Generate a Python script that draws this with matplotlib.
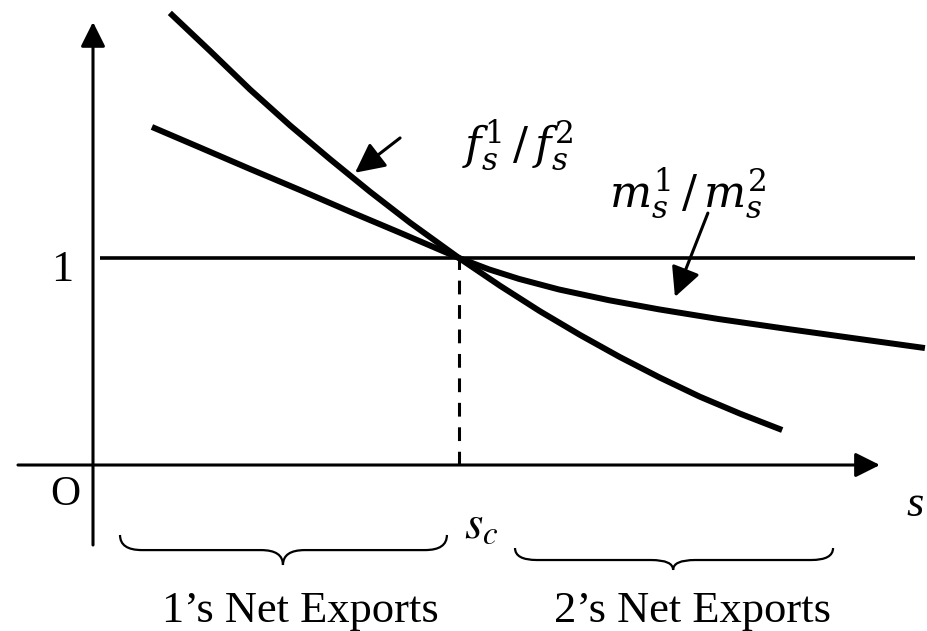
import matplotlib

matplotlib.use("Agg")
import matplotlib.pyplot as plt
from matplotlib.patches import FancyArrowPatch, PathPatch
from matplotlib.path import Path

# schematic curves: s on the x axis, ratio on the y axis (crossing at s_c = 1, ratio = 1)
f_s = [0.210, 0.320, 0.429, 0.538, 0.648, 0.757, 0.866, 1.000,
       1.112, 1.221, 1.331, 1.440, 1.549, 1.658, 1.768, 1.883]
f_ratio = [2.184, 2.000, 1.814, 1.641, 1.477, 1.320, 1.171, 1.000,
           0.866, 0.743, 0.628, 0.521, 0.422, 0.330, 0.248, 0.169]

m_s = [0.161, 0.292, 0.429, 0.566, 0.702, 0.839, 1.000, 1.082,
       1.164, 1.273, 1.410, 1.546, 1.710, 1.902, 2.093, 2.273]
m_ratio = [1.633, 1.534, 1.430, 1.328, 1.224, 1.122, 1.000, 0.945,
           0.899, 0.848, 0.796, 0.752, 0.705, 0.656, 0.609, 0.565]

s_c = 1.0
parity = 1.0

curve_labels = [r"$f_s^1\,/\,f_s^2$", r"$m_s^1\,/\,m_s^2$"]
region_labels = ["1\u2019s Net Exports", "2\u2019s Net Exports"]

plt.rcParams["mathtext.fontset"] = "dejavuserif"
serif = "Liberation Serif"

fig = plt.figure(figsize=(9.28, 6.31), dpi=100)
ax = fig.add_axes([0, 0, 1, 1])
ax.set_xlim(-0.2541, 2.2814)
ax.set_ylim(-0.8019, 2.2464)
ax.axis("off")


def arrow(ax, start, end, lw, head):
    ax.add_patch(FancyArrowPatch(start, end, arrowstyle=f"-|>,head_length={head},head_width={head * 0.5}",
                                 lw=lw, color="black", mutation_scale=10, shrinkA=0, shrinkB=0))


def brace(ax, x0, x1, xm, y0, y1, y2, w):
    verts = [(x0, y0), (x0, y1), (x0 + w, y1), (xm - w, y1), (xm, y1), (xm, y2),
             (xm, y1), (xm + w, y1), (x1 - w, y1), (x1, y1), (x1, y0)]
    codes = [Path.MOVETO, Path.CURVE3, Path.CURVE3, Path.LINETO, Path.CURVE3, Path.CURVE3,
             Path.CURVE3, Path.CURVE3, Path.LINETO, Path.CURVE3, Path.CURVE3]
    ax.add_patch(PathPatch(Path(verts, codes), fill=False, lw=1.6, color="black"))


# axes with arrow heads
arrow(ax, (0, -0.3865), (0, 2.140), 2.2, 1.5)
arrow(ax, (-0.205, 0), (2.150, 0), 2.2, 1.5)

# ratio = 1 line and the dashed drop at s_c
ax.plot([0.019, 2.246], [parity, parity], color="black", lw=2.6, solid_capstyle="butt")
ax.plot([s_c, s_c], [0, parity], color="black", lw=2.2, dashes=(4.5, 3.5))

ax.plot(f_s, f_ratio, color="black", lw=4.3, solid_capstyle="butt", solid_joinstyle="round")
ax.plot(m_s, m_ratio, color="black", lw=4.3, solid_capstyle="butt", solid_joinstyle="round")

# pointers to the curves
arrow(ax, (0.839, 1.580), (0.716, 1.412), 2.2, 1.8)
arrow(ax, (1.680, 1.217), (1.590, 0.812), 2.2, 1.8)

ax.text(1.160, 1.545, curve_labels[0], fontsize=32, ha="center", va="center")
ax.text(1.625, 1.310, curve_labels[1], fontsize=32, ha="center", va="center")

ax.text(-0.0847, 0.942, "1", family=serif, fontsize=32, ha="center", va="center")
ax.text(-0.0765, -0.145, "O", family=serif, fontsize=30, ha="center", va="center")
ax.text(2.246, -0.193, "s", family=serif, style="italic", fontsize=32, ha="center", va="center")
ax.text(1.062, -0.290, r"$\mathit{s}_{c}$", fontsize=34, ha="center", va="center",
        math_fontfamily="stix")

brace(ax, 0.0738, 0.967, 0.519, -0.338, -0.411, -0.483, 0.06)
brace(ax, 1.153, 2.022, 1.585, -0.401, -0.459, -0.507, 0.06)

ax.text(0.566, -0.758, region_labels[0], family=serif, fontsize=32, ha="center", va="baseline")
ax.text(1.637, -0.758, region_labels[1], family=serif, fontsize=32, ha="center", va="baseline")

fig.savefig("out.png", dpi=100, facecolor="white")
